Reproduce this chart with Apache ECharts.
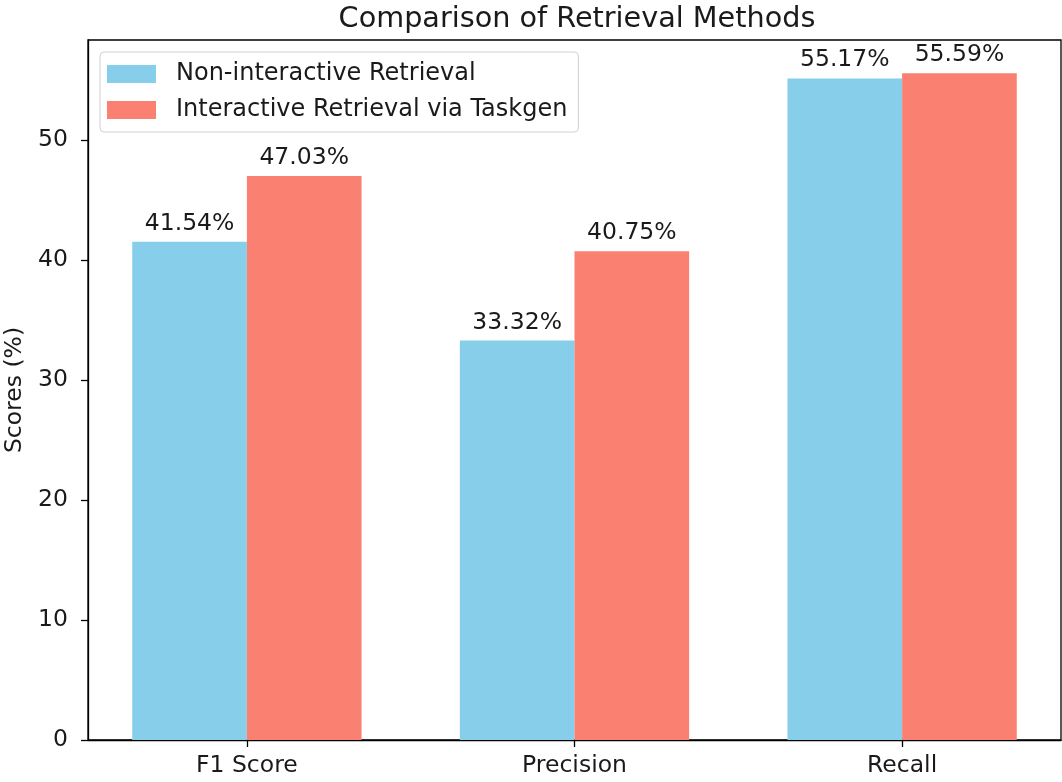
<!DOCTYPE html>
<html>
<head>
<meta charset="utf-8">
<script src="https://cdn.jsdelivr.net/npm/echarts@6/dist/echarts.min.js"></script>
<style>html,body{margin:0;padding:0;background:#fff}#c{width:1062px;height:782px}</style>
</head>
<body>
<div id="c"></div>
<script>
const categories = ['F1 Score', 'Precision', 'Recall'];
const nonInteractive = [41.54, 33.32, 55.17];
const interactive = [47.03, 40.75, 55.59];
const yTicks = [0, 10, 20, 30, 40, 50];
const seriesNames = ['Non-interactive Retrieval', 'Interactive Retrieval via Taskgen'];

const font = 'DejaVu Sans';
const txt = '#1a1a1a';
const fs = 23.5;
const catIdx = categories.map((c, i) => i);

const chart = echarts.init(document.getElementById('c'), null, {renderer: 'canvas'});
const mk = (name, vals, color) => ({
  name: name,
  type: 'bar',
  data: vals.map((v, i) => [i, v]),
  barWidth: '35%',
  barGap: '0%',
  itemStyle: {color: color},
  label: {
    show: true, position: 'top', distance: 6,
    fontFamily: font, fontSize: fs, color: txt,
    formatter: p => p.value[1].toFixed(2) + '%'
  },
  emphasis: {disabled: true}
});

chart.setOption({
  animation: false,
  title: {
    text: 'Comparison of Retrieval Methods',
    left: 572, top: 0, textAlign: 'center',
    textStyle: {fontFamily: font, fontSize: 28.7, fontWeight: 'normal', color: txt}
  },
  grid: {left: 88, right: 1, top: 40, bottom: 42, outerBoundsMode: 'none', containLabel: false,
    show: true, borderColor: '#000', borderWidth: 1.3, backgroundColor: 'transparent'},
  legend: {
    orient: 'vertical', left: 100, top: 52,
    itemWidth: 49, itemHeight: 18, itemGap: 12,
    padding: [10, 11, 10, 7],
    borderColor: '#d0d0d0', borderWidth: 1, borderRadius: 4,
    backgroundColor: 'rgba(255,255,255,0.8)',
    icon: 'rect',
    textStyle: {fontFamily: font, fontSize: 24, color: txt, padding: [0, 0, 0, 15]},
    data: seriesNames
  },
  xAxis: {
    type: 'value', min: -0.485, max: 2.485,
    splitLine: {show: false},
    axisLine: {show: true, onZero: false, lineStyle: {color: '#000', width: 1.3}},
    axisTick: {show: true, customValues: catIdx, length: 7, lineStyle: {color: '#000', width: 1.3}},
    axisLabel: {customValues: catIdx, margin: 14, fontFamily: font, fontSize: fs, color: txt,
      formatter: v => categories[Math.round(v)] || ''}
  },
  yAxis: {
    type: 'value', min: 0, max: 58.37,
    name: 'Scores (%)', nameLocation: 'middle', nameGap: 61,
    nameTextStyle: {fontFamily: font, fontSize: fs, color: txt},
    splitLine: {show: false},
    axisLine: {show: true, onZero: false, lineStyle: {color: '#000', width: 1.3}},
    axisTick: {show: true, customValues: yTicks, length: 7, lineStyle: {color: '#000', width: 1.3}},
    axisLabel: {customValues: yTicks, margin: 20, fontFamily: font, fontSize: fs, color: txt}
  },
  series: [
    mk(seriesNames[0], nonInteractive, '#87CEEB'),
    mk(seriesNames[1], interactive, '#FA8072')
  ]
});
</script>
</body>
</html>
